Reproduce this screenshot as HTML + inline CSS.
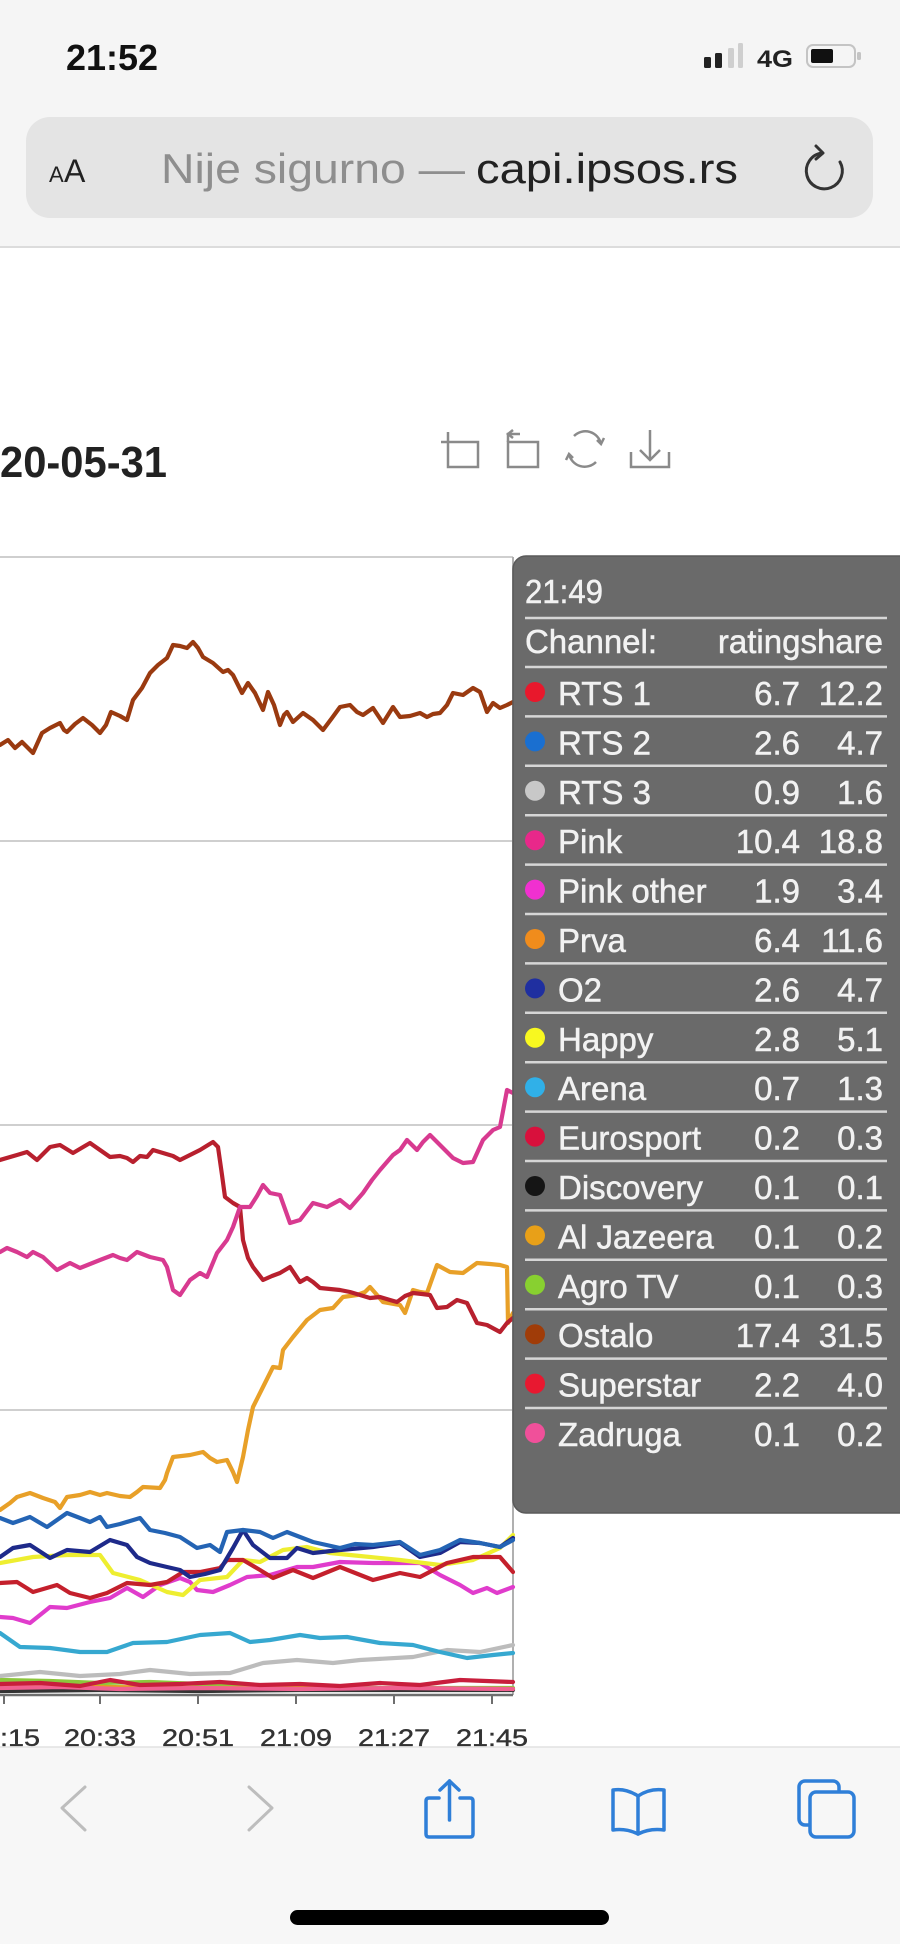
<!DOCTYPE html>
<html>
<head>
<meta charset="utf-8">
<style>
html,body{margin:0;padding:0;background:#fff;}
body{width:900px;height:1944px;overflow:hidden;}
svg{display:block;}
text{font-family:"Liberation Sans",Arial,sans-serif;}
</style>
</head>
<body>
<svg width="900" height="1944" viewBox="0 0 900 1944" xmlns="http://www.w3.org/2000/svg">
  <!-- page background -->
  <rect x="0" y="0" width="900" height="1944" fill="#ffffff"/>
  <!-- top safari chrome -->
  <rect x="0" y="0" width="900" height="247" fill="#f5f5f5"/>
  <line x1="0" y1="247" x2="900" y2="247" stroke="#dcdcdc" stroke-width="2"/>
  <text x="66" y="70" font-size="36" font-weight="bold" fill="#111" textLength="92" lengthAdjust="spacingAndGlyphs">21:52</text>
  <!-- signal -->
  <rect x="704" y="57" width="7" height="11" rx="1.5" fill="#222"/>
  <rect x="715" y="53" width="7" height="15" rx="1.5" fill="#222"/>
  <rect x="728" y="48" width="6" height="20" rx="1.5" fill="#cfcfcf"/>
  <rect x="738" y="43" width="5" height="25" rx="1.5" fill="#cfcfcf"/>
  <text x="757" y="67" font-size="24" font-weight="bold" fill="#222" textLength="36" lengthAdjust="spacingAndGlyphs">4G</text>
  <!-- battery -->
  <rect x="807" y="45" width="48" height="22" rx="6" fill="none" stroke="#c4c4c4" stroke-width="2"/>
  <rect x="811" y="49" width="22" height="14" rx="2" fill="#111"/>
  <rect x="857" y="52" width="4" height="8" rx="1.5" fill="#c4c4c4"/>
  <!-- URL bar -->
  <rect x="26" y="117" width="847" height="101" rx="24" fill="#e4e4e4"/>
  <text x="49" y="182" font-size="22" fill="#222">A</text>
  <text x="64" y="182" font-size="32" fill="#222">A</text>
  <text x="161" y="183" font-size="42" fill="#8e8e8e" textLength="304" lengthAdjust="spacingAndGlyphs">Nije sigurno —</text>
  <text x="476" y="183" font-size="42" fill="#222" textLength="262" lengthAdjust="spacingAndGlyphs">capi.ipsos.rs</text>
  <!-- refresh -->
  <path d="M 822 153 A 18 18 0 1 0 840 162" fill="none" stroke="#333" stroke-width="3" stroke-linecap="round"/>
  <path d="M 816 146 L 823 153 L 816 159" fill="none" stroke="#333" stroke-width="3" stroke-linecap="round" stroke-linejoin="round"/>

  <!-- chart title -->
  <text x="0" y="477" font-size="44" font-weight="bold" fill="#222" textLength="167" lengthAdjust="spacingAndGlyphs">20-05-31</text>
  <!-- toolbox icons -->
  <g fill="none" stroke="#8a8a8a" stroke-width="2.5">
    <rect x="448" y="442" width="30" height="25"/>
    <line x1="448" y1="432" x2="448" y2="442"/>
    <line x1="441" y1="442" x2="448" y2="442"/>
    <rect x="508" y="442" width="30" height="25"/>
    <path d="M 508 442 L 508 434 L 520 434"/>
    <path d="M 513 430 L 508 434 L 513 438"/>
    <path d="M 574 436 A 16 16 0 0 1 601 444"/>
    <path d="M 596 462 A 16 16 0 0 1 569 454"/>
    <path d="M 597 440 L 601 444 L 604 438"/>
    <path d="M 573 458 L 569 454 L 566 460"/>
    <path d="M 631 452 L 631 467 L 669 467 L 669 452"/>
    <line x1="650" y1="430" x2="650" y2="460"/>
    <path d="M 640 450 L 650 460 L 660 450"/>
  </g>

  <!-- grid -->
  <g stroke="#cfcfcf" stroke-width="2">
    <line x1="0" y1="557" x2="513" y2="557"/>
    <line x1="0" y1="841" x2="513" y2="841"/>
    <line x1="0" y1="1125" x2="513" y2="1125"/>
    <line x1="0" y1="1410" x2="513" y2="1410"/>
  </g>
  <!-- axis pointer line -->
  <line x1="513" y1="557" x2="513" y2="1695" stroke="#b0b0b0" stroke-width="2"/>

  <!-- series -->
  <g fill="none" stroke-width="4.2" stroke-linejoin="round" stroke-linecap="round">
    <!-- bottom cluster -->
    <polyline stroke="#8cc63c" points="0,1680 50,1681 100,1683 150,1682 200,1684 260,1687 320,1688 400,1688 513,1688"/>
    <polyline stroke="#e0a020" points="0,1686 100,1687 200,1688 300,1688 400,1689 513,1689"/>
    <polyline stroke="#333333" points="0,1691 100,1690 200,1691 300,1690 513,1690"/>
    <polyline stroke="#f06090" points="0,1688 60,1687 120,1689 200,1688 300,1689 400,1688 513,1689"/>
    <polyline stroke="#c81e3c" points="0,1684 40,1683 80,1686 110,1680 140,1685 180,1684 220,1682 260,1685 300,1684 340,1686 380,1683 420,1685 460,1680 513,1682"/>
    <!-- RTS 3 -->
    <polyline stroke="#bcbcbc" points="0,1676 40,1672 80,1676 120,1674 150,1670 190,1674 230,1673 263,1663 297,1660 333,1663 360,1660 413,1657 447,1650 480,1652 513,1645"/>
    <!-- Arena -->
    <polyline stroke="#36a8d0" points="0,1633 20,1647 50,1648 80,1652 107,1652 133,1643 167,1642 200,1635 230,1633 250,1642 270,1640 300,1635 320,1638 347,1637 380,1643 413,1645 440,1652 467,1658 493,1655 513,1653"/>
    <!-- Pink other -->
    <polyline stroke="#e03ccc" points="0,1617 13,1618 30,1623 50,1607 67,1608 90,1602 110,1598 127,1588 143,1597 160,1585 180,1578 190,1582 197,1590 213,1592 230,1585 247,1577 270,1575 297,1567 313,1567 340,1562 373,1563 420,1563 440,1575 460,1585 473,1593 487,1588 497,1593 513,1587"/>
    <!-- Happy -->
    <polyline stroke="#eeee30" points="0,1563 33,1557 67,1555 100,1555 113,1573 140,1580 167,1592 183,1595 200,1580 227,1577 243,1560 260,1562 283,1550 307,1547 330,1553 360,1556 400,1560 440,1565 473,1560 500,1548 513,1535"/>
    <!-- Superstar -->
    <polyline stroke="#c4202c" points="0,1583 17,1582 33,1592 57,1585 70,1593 90,1598 107,1593 127,1583 150,1585 167,1582 183,1572 200,1572 220,1568 227,1560 243,1560 260,1570 273,1578 293,1570 313,1578 340,1567 373,1580 400,1573 420,1577 447,1563 473,1557 500,1557 513,1572"/>
    <!-- O2 -->
    <polyline stroke="#1e2a8a" points="0,1557 13,1548 30,1545 50,1558 67,1550 90,1552 110,1540 127,1545 137,1557 150,1563 167,1567 180,1570 190,1577 205,1574 220,1570 233,1548 243,1530 253,1545 270,1558 287,1558 297,1548 313,1553 340,1550 373,1547 400,1543 420,1557 440,1553 460,1542 480,1543 500,1547 513,1538"/>
    <!-- RTS 2 -->
    <polyline stroke="#2464b4" points="0,1518 13,1523 30,1517 47,1527 67,1513 80,1518 90,1522 100,1517 107,1527 120,1524 140,1518 150,1530 165,1533 180,1537 197,1548 210,1545 220,1552 227,1532 243,1530 260,1532 273,1538 287,1532 300,1537 313,1542 340,1548 355,1544 373,1545 400,1542 420,1555 440,1550 460,1540 480,1543 500,1547 513,1540"/>
    <!-- Prva -->
    <polyline stroke="#e8a028" points="0,1510 10,1503 17,1497 30,1493 43,1498 55,1502 60,1508 67,1497 80,1495 90,1492 100,1495 107,1493 120,1496 130,1497 137,1492 143,1487 160,1488 165,1480 167,1473 173,1457 190,1455 203,1452 210,1458 217,1462 227,1460 233,1472 237,1482 243,1457 248,1430 253,1407 263,1387 273,1367 280,1368 283,1350 293,1337 307,1320 320,1310 333,1308 343,1297 357,1295 365,1292 370,1287 377,1295 383,1302 400,1305 405,1313 413,1290 420,1292 427,1293 437,1265 450,1272 463,1273 477,1263 490,1264 500,1265 507,1267 508,1323 513,1313"/>
    <!-- RTS 1 -->
    <polyline stroke="#b8202e" points="0,1160 17,1155 27,1152 37,1160 50,1147 60,1145 73,1153 90,1143 100,1150 110,1157 120,1156 127,1158 133,1162 140,1156 147,1157 153,1150 163,1153 173,1156 180,1160 190,1155 200,1150 213,1142 218,1147 222,1175 225,1197 233,1203 240,1207 243,1240 248,1258 253,1267 263,1280 272,1276 280,1273 290,1267 300,1282 307,1278 313,1282 320,1288 330,1289 340,1290 350,1292 360,1295 370,1298 380,1297 390,1300 397,1302 405,1296 413,1293 422,1294 430,1295 437,1308 447,1307 457,1300 467,1303 477,1323 487,1325 500,1332 507,1323 513,1318"/>
    <!-- Pink -->
    <polyline stroke="#d83a90" points="0,1252 7,1248 17,1252 27,1257 33,1252 43,1257 57,1270 70,1263 80,1268 90,1264 100,1260 113,1255 120,1258 127,1260 137,1252 150,1257 163,1260 167,1267 173,1290 180,1295 190,1280 200,1273 207,1277 217,1253 227,1240 233,1227 240,1207 250,1207 257,1196 263,1185 270,1193 280,1195 290,1223 300,1220 313,1203 327,1207 340,1200 350,1208 363,1193 372,1180 380,1170 393,1155 400,1150 407,1140 417,1150 423,1142 430,1135 440,1145 453,1158 463,1163 473,1162 483,1140 493,1130 500,1127 507,1090 513,1093"/>
    <!-- Ostalo -->
    <polyline stroke="#9a3a10" points="0,745 8,740 15,748 22,742 33,753 42,733 50,728 60,723 64,730 67,732 75,724 83,718 92,725 100,733 106,725 111,712 120,716 127,720 133,700 142,688 150,673 158,665 167,658 173,645 180,646 187,648 193,642 198,648 203,657 213,663 223,672 228,670 233,675 242,693 248,683 255,693 263,710 268,692 274,705 280,725 284,715 287,712 293,722 303,713 313,720 323,730 332,718 340,707 350,705 357,712 363,715 373,708 383,723 393,707 400,717 410,716 420,713 427,717 433,714 440,713 447,705 453,693 463,695 473,688 480,692 487,712 493,703 500,708 507,705 513,702"/>
  </g>

  <!-- x axis -->
  <line x1="0" y1="1695" x2="513" y2="1695" stroke="#6e6e6e" stroke-width="2.5"/>
  <g stroke="#6e6e6e" stroke-width="2">
    <line x1="4" y1="1695" x2="4" y2="1704"/>
    <line x1="100" y1="1695" x2="100" y2="1704"/>
    <line x1="198" y1="1695" x2="198" y2="1704"/>
    <line x1="296" y1="1695" x2="296" y2="1704"/>
    <line x1="394" y1="1695" x2="394" y2="1704"/>
    <line x1="492" y1="1695" x2="492" y2="1704"/>
  </g>
  <g font-size="24" fill="#333" stroke="#333" stroke-width="0.4" text-anchor="middle">
    <text x="4" y="1746" textLength="72" lengthAdjust="spacingAndGlyphs">20:15</text>
    <text x="100" y="1746" textLength="72" lengthAdjust="spacingAndGlyphs">20:33</text>
    <text x="198" y="1746" textLength="72" lengthAdjust="spacingAndGlyphs">20:51</text>
    <text x="296" y="1746" textLength="72" lengthAdjust="spacingAndGlyphs">21:09</text>
    <text x="394" y="1746" textLength="72" lengthAdjust="spacingAndGlyphs">21:27</text>
    <text x="492" y="1746" textLength="72" lengthAdjust="spacingAndGlyphs">21:45</text>
  </g>

  <!-- tooltip -->
  <rect x="513" y="556" width="400" height="957" rx="13" fill="#6a6a6a" stroke="#5a5a5a" stroke-width="1.5"/>
  <g fill="#f2f2f2" stroke="#f2f2f2" stroke-width="0.5" font-size="33">
    <text x="525" y="603" textLength="78" lengthAdjust="spacingAndGlyphs">21:49</text>
    <text x="525" y="653" textLength="132" lengthAdjust="spacingAndGlyphs">Channel:</text>
    <text x="883" y="653" text-anchor="end">ratingshare</text>
  </g>
  <g stroke="#d6d6d6" stroke-width="2.5">
    <line x1="525" y1="618" x2="887" y2="618"/>
    <line x1="525" y1="667" x2="887" y2="667"/>
    <line x1="525" y1="716.4" x2="887" y2="716.4"/>
    <line x1="525" y1="765.8" x2="887" y2="765.8"/>
    <line x1="525" y1="815.2" x2="887" y2="815.2"/>
    <line x1="525" y1="864.6" x2="887" y2="864.6"/>
    <line x1="525" y1="914" x2="887" y2="914"/>
    <line x1="525" y1="963.4" x2="887" y2="963.4"/>
    <line x1="525" y1="1012.8" x2="887" y2="1012.8"/>
    <line x1="525" y1="1062.2" x2="887" y2="1062.2"/>
    <line x1="525" y1="1111.6" x2="887" y2="1111.6"/>
    <line x1="525" y1="1161" x2="887" y2="1161"/>
    <line x1="525" y1="1210.4" x2="887" y2="1210.4"/>
    <line x1="525" y1="1259.8" x2="887" y2="1259.8"/>
    <line x1="525" y1="1309.2" x2="887" y2="1309.2"/>
    <line x1="525" y1="1358.6" x2="887" y2="1358.6"/>
    <line x1="525" y1="1408" x2="887" y2="1408"/>
  </g>
  <!-- dots -->
  <g>
    <circle cx="535" cy="692" r="10" fill="#e8182c"/>
    <circle cx="535" cy="741.4" r="10" fill="#1a6fd0"/>
    <circle cx="535" cy="790.8" r="10" fill="#c8c8c8"/>
    <circle cx="535" cy="840.2" r="10" fill="#e8288a"/>
    <circle cx="535" cy="889.6" r="10" fill="#f030d0"/>
    <circle cx="535" cy="939" r="10" fill="#f08c1c"/>
    <circle cx="535" cy="988.4" r="10" fill="#1f2fa0"/>
    <circle cx="535" cy="1037.8" r="10" fill="#f8f820"/>
    <circle cx="535" cy="1087.2" r="10" fill="#30b0e8"/>
    <circle cx="535" cy="1136.6" r="10" fill="#d8103c"/>
    <circle cx="535" cy="1186" r="10" fill="#151515"/>
    <circle cx="535" cy="1235.4" r="10" fill="#e8a018"/>
    <circle cx="535" cy="1284.8" r="10" fill="#88d030"/>
    <circle cx="535" cy="1334.2" r="10" fill="#a03c08"/>
    <circle cx="535" cy="1383.6" r="10" fill="#e81830"/>
    <circle cx="535" cy="1433" r="10" fill="#f0509a"/>
  </g>
  <g fill="#f2f2f2" stroke="#f2f2f2" stroke-width="0.5" font-size="33">
    <text x="558" y="705">RTS 1</text>
    <text x="558" y="754.4">RTS 2</text>
    <text x="558" y="803.8">RTS 3</text>
    <text x="558" y="853.2">Pink</text>
    <text x="558" y="902.6">Pink other</text>
    <text x="558" y="952">Prva</text>
    <text x="558" y="1001.4">O2</text>
    <text x="558" y="1050.8">Happy</text>
    <text x="558" y="1100.2">Arena</text>
    <text x="558" y="1149.6">Eurosport</text>
    <text x="558" y="1199">Discovery</text>
    <text x="558" y="1248.4">Al Jazeera</text>
    <text x="558" y="1297.8">Agro TV</text>
    <text x="558" y="1347.2">Ostalo</text>
    <text x="558" y="1396.6">Superstar</text>
    <text x="558" y="1446">Zadruga</text>
  </g>
  <g fill="#f2f2f2" stroke="#f2f2f2" stroke-width="0.5" font-size="33" text-anchor="end">
    <text x="800" y="705">6.7</text><text x="883" y="705">12.2</text>
    <text x="800" y="754.4">2.6</text><text x="883" y="754.4">4.7</text>
    <text x="800" y="803.8">0.9</text><text x="883" y="803.8">1.6</text>
    <text x="800" y="853.2">10.4</text><text x="883" y="853.2">18.8</text>
    <text x="800" y="902.6">1.9</text><text x="883" y="902.6">3.4</text>
    <text x="800" y="952">6.4</text><text x="883" y="952">11.6</text>
    <text x="800" y="1001.4">2.6</text><text x="883" y="1001.4">4.7</text>
    <text x="800" y="1050.8">2.8</text><text x="883" y="1050.8">5.1</text>
    <text x="800" y="1100.2">0.7</text><text x="883" y="1100.2">1.3</text>
    <text x="800" y="1149.6">0.2</text><text x="883" y="1149.6">0.3</text>
    <text x="800" y="1199">0.1</text><text x="883" y="1199">0.1</text>
    <text x="800" y="1248.4">0.1</text><text x="883" y="1248.4">0.2</text>
    <text x="800" y="1297.8">0.1</text><text x="883" y="1297.8">0.3</text>
    <text x="800" y="1347.2">17.4</text><text x="883" y="1347.2">31.5</text>
    <text x="800" y="1396.6">2.2</text><text x="883" y="1396.6">4.0</text>
    <text x="800" y="1446">0.1</text><text x="883" y="1446">0.2</text>
  </g>

  <!-- bottom toolbar -->
  <rect x="0" y="1747" width="900" height="197" fill="#f7f7f7"/>
  <line x1="0" y1="1747" x2="900" y2="1747" stroke="#e2e2e2" stroke-width="1.5"/>
  <g fill="none" stroke-linecap="round" stroke-linejoin="round">
    <path d="M 85 1787 L 62 1808 L 85 1830" stroke="#bdbdbd" stroke-width="3"/>
    <path d="M 249 1787 L 272 1808 L 249 1830" stroke="#bdbdbd" stroke-width="3"/>
    <!-- share -->
    <path d="M 439 1798 L 429 1798 Q 426 1798 426 1801 L 426 1834 Q 426 1837 429 1837 L 470 1837 Q 473 1837 473 1834 L 473 1801 Q 473 1798 470 1798 L 460 1798" stroke="#2f7fd8" stroke-width="3.5"/>
    <line x1="449.5" y1="1781" x2="449.5" y2="1820" stroke="#2f7fd8" stroke-width="3.5"/>
    <path d="M 440 1790 L 449.5 1781 L 459 1790" stroke="#2f7fd8" stroke-width="3.5"/>
    <!-- book -->
    <path d="M 638 1796 Q 626 1788 613 1790 L 613 1830 Q 626 1828 638 1834 Q 650 1828 664 1830 L 664 1790 Q 650 1788 638 1796 Z" stroke="#2f7fd8" stroke-width="3.5"/>
    <line x1="638" y1="1796" x2="638" y2="1834" stroke="#2f7fd8" stroke-width="3.5"/>
    <!-- tabs -->
    <rect x="799" y="1781" width="40" height="44" rx="6" stroke="#2f7fd8" stroke-width="3.5"/>
    <rect x="810" y="1792" width="44" height="45" rx="6" fill="#f7f7f7" stroke="#2f7fd8" stroke-width="3.5"/>
  </g>
  <!-- home indicator -->
  <rect x="290" y="1910" width="319" height="15" rx="7.5" fill="#000"/>
</svg>
</body>
</html>
